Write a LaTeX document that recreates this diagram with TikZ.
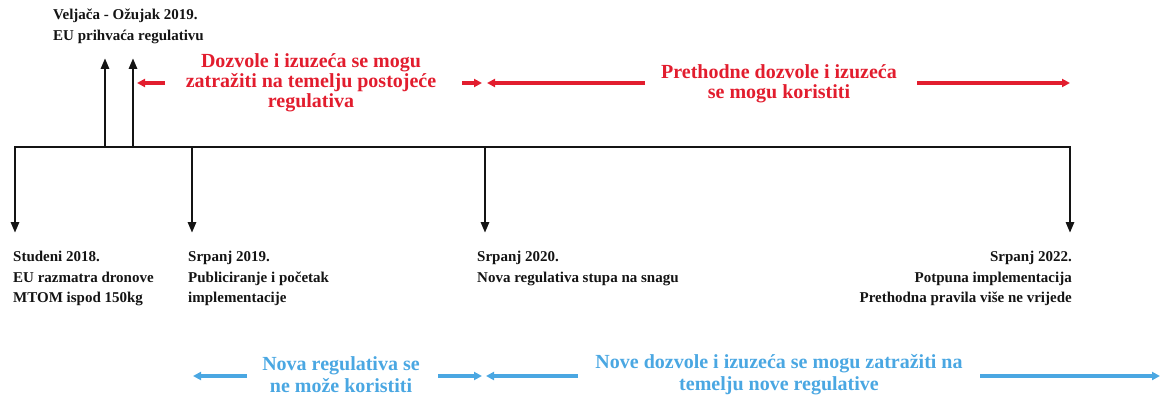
\documentclass[tikz,border=0pt]{standalone}
\usepackage{fontspec}
\setmainfont{Liberation Serif}
\usetikzlibrary{arrows.meta}
\definecolor{tlred}{RGB}{226,29,46}
\definecolor{tlblue}{RGB}{74,167,226}
\definecolor{tlblack}{RGB}{20,20,20}
\begin{document}
\begin{tikzpicture}[x=1pt,y=-1pt,
  axis/.style={line width=2.8pt, draw=tlblack},
  tick/.style={axis, -{Triangle[length=11pt,width=8pt]}},
  redarr/.style={line width=3.2pt, draw=tlred, -{Triangle[length=8pt,width=8pt]}},
  bluearr/.style={line width=3.2pt, draw=tlblue, -{Triangle[length=8pt,width=8pt]}},
  blacktxt/.style={font=\fontsize{15}{20.5}\selectfont\bfseries, text=tlblack, inner sep=0pt},
  redtxt/.style={font=\fontsize{20}{20}\selectfont\bfseries, text=tlred, align=center, inner sep=0pt},
  bluetxt/.style={font=\fontsize{20}{22}\selectfont\bfseries, text=tlblue, align=center, inner sep=0pt}]
\useasboundingbox (0,0) rectangle (1162,396);
% timeline
\coordinate (L) at (15,147);
\coordinate (R) at (1070,147);
\coordinate (m1) at (192,147);
\coordinate (m2) at (485,147);
\coordinate (u1) at (105,147);
\coordinate (u2) at (133,147);
\coordinate (dL) at (15,233);
\coordinate (d1) at (192,233);
\coordinate (d2) at (485,233);
\coordinate (dR) at (1070,233);
\coordinate (e1) at (105,58);
\coordinate (e2) at (133,58);
\draw[axis, line cap=rect] (L) -- (R);
\draw[tick] (L) -- (dL);
\draw[tick] (m1) -- (d1);
\draw[tick] (m2) -- (d2);
\draw[tick] (R) -- (dR);
\draw[tick] (u1) -- (e1);
\draw[tick] (u2) -- (e2);
% black labels
\node[blacktxt, anchor=north west, align=left] (top) at (53,9) {Veljača - Ožujak 2019.\\EU prihvaća regulativu};
\node[blacktxt, anchor=north west, align=left] (n0) at (13,251) {Studeni 2018.\\EU razmatra dronove\\MTOM ispod 150kg};
\node[blacktxt, anchor=north west, align=left] (n1) at (188,251) {Srpanj 2019.\\Publiciranje i početak\\implementacije};
\node[blacktxt, anchor=north west, align=left] (n2) at (477,251) {Srpanj 2020.\\Nova regulativa stupa na snagu};
\node[blacktxt, anchor=north east, align=right] (n3) at (1072,251) {Srpanj 2022.\\Potpuna implementacija\\Prethodna pravila više ne vrijede};
% red labels and arrows
\node[redtxt] (r1) at (311,83) {Dozvole i izuzeća se mogu\\zatražiti na temelju postojeće\\regulativa};
\node[redtxt] (r2) at (779,84) {Prethodne dozvole i izuzeća\\se mogu koristiti};
\coordinate (ra1s) at (165,83); \coordinate (ra1e) at (137,83);
\coordinate (ra2s) at (462,83); \coordinate (ra2e) at (482,83);
\coordinate (ra3s) at (645,83); \coordinate (ra3e) at (487,83);
\coordinate (ra4s) at (917,83); \coordinate (ra4e) at (1070,83);
\draw[redarr] (ra1s) -- (ra1e);
\draw[redarr] (ra2s) -- (ra2e);
\draw[redarr] (ra3s) -- (ra3e);
\draw[redarr] (ra4s) -- (ra4e);
% blue labels and arrows
\node[bluetxt] (b1) at (341,375) {Nova regulativa se\\ne može koristiti};
\node[bluetxt] (b2) at (779,375) {Nove dozvole i izuzeća se mogu zatražiti na\\temelju nove regulative};
\coordinate (ba1s) at (247,376); \coordinate (ba1e) at (193,376);
\coordinate (ba2s) at (438,376); \coordinate (ba2e) at (482,376);
\coordinate (ba3s) at (578,376); \coordinate (ba3e) at (486,376);
\coordinate (ba4s) at (980,376); \coordinate (ba4e) at (1160,376);
\draw[bluearr] (ba1s) -- (ba1e);
\draw[bluearr] (ba2s) -- (ba2e);
\draw[bluearr] (ba3s) -- (ba3e);
\draw[bluearr] (ba4s) -- (ba4e);
\end{tikzpicture}
\end{document}
